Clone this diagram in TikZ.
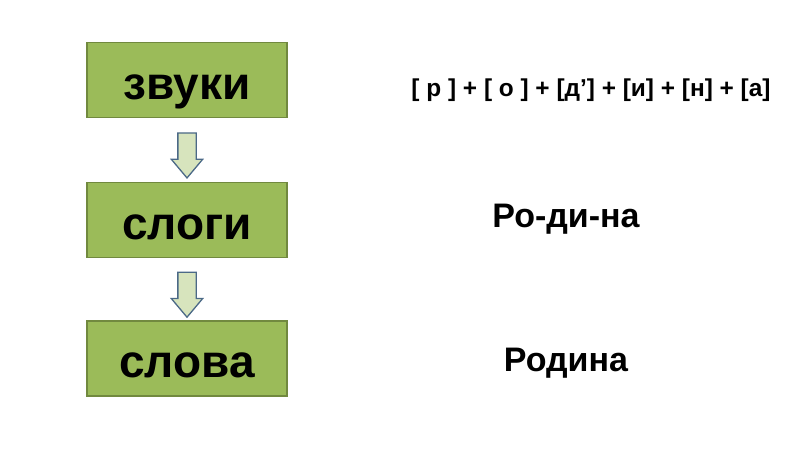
\documentclass[tikz,border=0pt]{standalone}
\usepackage{fontspec}
\setmainfont{Liberation Sans}
\usetikzlibrary{shapes.arrows,calc}
\definecolor{boxgreen}{HTML}{9BBB59}
\definecolor{boxline}{HTML}{71893F}
\definecolor{arrowfill}{HTML}{D7E4BD}
\definecolor{arrowline}{RGB}{75,105,135}

\begin{document}
\begin{tikzpicture}[
    x=1pt, y=-1pt,
    level/.style={draw=boxline, line width=1.5pt, fill=boxgreen, minimum width=200pt, minimum height=75pt,
        inner sep=0pt, text height=38pt, text depth=0pt, font=\fontsize{46}{50}\selectfont\bfseries},
    down/.style={single arrow, draw=arrowline, line width=1.3pt, fill=arrowfill, shape border rotate=270,
        minimum height=45pt, inner sep=8.5pt, single arrow head extend=6.5pt, single arrow tip angle=80},
    example/.style={font=\fontsize{34}{38}\selectfont\bfseries}
]
    \useasboundingbox (0,0) rectangle (800,450);

    % Levels (top to bottom)
    \node[level] (zvuki) at (187,80) {звуки};
    \node[level] (slogi) at (187,220) {слоги};
    \node[level] (slova) at (187,358.5) {слова};

    % Block arrows between levels
    \node[down] (a1) at ($(zvuki.south)!0.5!(slogi.north)$) {};
    \node[down] (a2) at ($(slogi.south)!0.5!(slova.north)$) {};

    % Examples on the right
    \node[font=\fontsize{24.4}{28}\selectfont\bfseries] (sounds) at (591,90) {[ р ] + [ о ] + [д’] + [и] + [н] + [а]};
    \node[example] (syll) at (566,219) {Ро-ди-на};
    \node[example] (word) at (566,363) {Родина};
\end{tikzpicture}
\end{document}
